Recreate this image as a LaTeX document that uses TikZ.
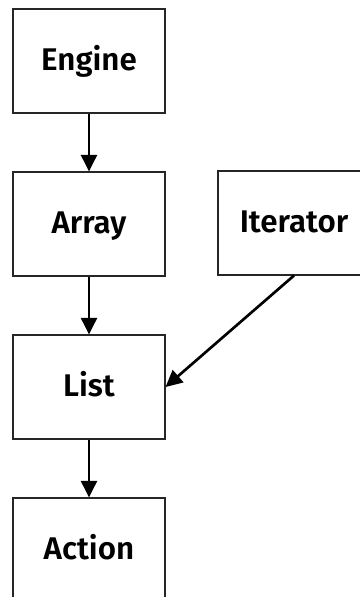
\documentclass[tikz,border=0pt]{standalone}
\usepackage{fontspec}
\setmainfont{Fira Sans}[BoldFont={Fira Sans SemiBold}]
\usetikzlibrary{arrows.meta}
\begin{document}
\begin{tikzpicture}[x=0.75pt,y=-0.75pt,
  block/.style={draw=black!85, line width=0.8pt, minimum width=152*0.75pt,
    minimum height=104*0.75pt, inner sep=0pt, text height=16pt, text depth=2.5pt,
    font=\fontsize{23.5}{27}\selectfont\bfseries},
  flow/.style={line width=2pt, -{Triangle[length=12.5pt,width=12pt]}}]
  \useasboundingbox (0,0) rectangle (360,597);
  \clip (0,0) rectangle (360,597);
  \node[block] (engine)   at (89,61)   {Engine};
  \node[block] (array)    at (89,224)  {Array};
  \node[block] (iterator) at (294,223) {Iterator};
  \node[block] (list)     at (89,387)  {List};
  \node[block] (action)   at (89,550)  {Action};
  \draw[flow] (engine) -- (array);
  \draw[flow] (array) -- (list);
  \draw[flow] (list) -- (action);
  \draw[flow] (iterator.south) -- (list.east);
\end{tikzpicture}
\end{document}
